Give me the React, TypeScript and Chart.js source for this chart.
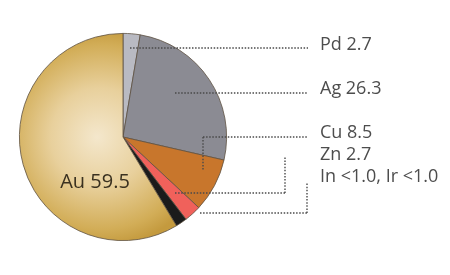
import React, { useEffect, useRef } from "react";
import { Chart, registerables } from "chart.js";

Chart.register(...registerables);

const categories = ["Pd", "Ag", "Cu", "Zn", "In, Ir", "Au"];
const values = [2.7, 26.3, 8.5, 2.7, 1.8, 59.5];
const labelTexts = ["Pd 2.7", "Ag 26.3", "Cu 8.5", "Zn 2.7", "In <1.0, Ir <1.0"];
const centerLabel = "Au 59.5";
const sliceColors = ["#b9bac2", "#8b8b93", "#c8762c", "#f0615b", "#1b1b1b"];

const leaderPlugin = {
  id: "leaders",
  afterDraw(chart: any) {
    const meta = chart.getDatasetMeta(0);
    const arc = meta.data[0];
    if (!arc) return;
    const cx = arc.x;
    const cy = arc.y;
    const ctx = chart.ctx;
    const lx = 320;
    ctx.save();
    ctx.strokeStyle = "#4a4a4a";
    ctx.lineWidth = 1.4;
    ctx.setLineDash([1.5, 1.6]);
    const seg = (x1: number, y1: number, x2: number, y2: number) => {
      ctx.beginPath();
      ctx.moveTo(x1, y1);
      ctx.lineTo(x2, y2);
      ctx.stroke();
    };
    // Pd
    seg(cx + 7, cy - 89, lx - 12, cy - 89);
    // Ag
    seg(cx + 52, cy - 44, lx - 12, cy - 44);
    // Cu
    seg(cx + 80, cy, lx - 12, cy);
    seg(cx + 80, cy, cx + 80, cy + 33);
    // Zn
    seg(cx + 52, cy + 56, 285, cy + 56);
    seg(285, cy + 56, 285, cy + 20);
    // In / Ir
    seg(cx + 77, cy + 76, 307, cy + 76);
    seg(307, cy + 76, 307, cy + 46);
    ctx.setLineDash([]);

    ctx.fillStyle = "#4d4d4d";
    ctx.font = "18px 'Open Sans', sans-serif";
    ctx.textBaseline = "middle";
    ctx.textAlign = "left";
    const ys = [cy - 92, cy - 48, cy - 4, cy + 18, cy + 40];
    labelTexts.forEach((t, i) => ctx.fillText(t, lx, ys[i]));

    ctx.fillStyle = "#3a3120";
    ctx.font = "20px 'Open Sans', sans-serif";
    ctx.textAlign = "center";
    ctx.fillText(centerLabel, cx - 28, cy + 45);
    ctx.restore();
  },
};

export default function App() {
  const ref = useRef<HTMLCanvasElement>(null);
  useEffect(() => {
    document.body.style.margin = "0";
    const canvas = ref.current!;
    const chart = new Chart(canvas, {
      type: "pie",
      data: {
        labels: categories,
        datasets: [
          {
            data: values,
            backgroundColor: (c: any) => {
              const i = c.dataIndex;
              if (i < sliceColors.length) return sliceColors[i];
              const ch = c.chart;
              const a = ch.getDatasetMeta(0).data[0];
              if (!a || !a.outerRadius) return "#d9b565";
              const g = ch.ctx.createRadialGradient(a.x - 26, a.y, 0, a.x - 20, a.y, a.outerRadius * 1.05);
              g.addColorStop(0, "#f4e7cc");
              g.addColorStop(0.45, "#e8d09c");
              g.addColorStop(0.85, "#d2ad57");
              g.addColorStop(1, "#c49a3e");
              return g;
            },
            borderColor: "#5e5242",
            borderWidth: 0.8,
          },
        ],
      },
      options: {
        responsive: false,
        animation: false,
        layout: { padding: { left: 19, right: 223, top: 33, bottom: 34 } },
        plugins: { legend: { display: false }, tooltip: { enabled: false } },
      },
      plugins: [leaderPlugin],
    });
    return () => chart.destroy();
  }, []);
  return (
    <div style={{ width: 450, height: 275, background: "#fff" }}>
      <canvas ref={ref} width={450} height={275} />
    </div>
  );
}
